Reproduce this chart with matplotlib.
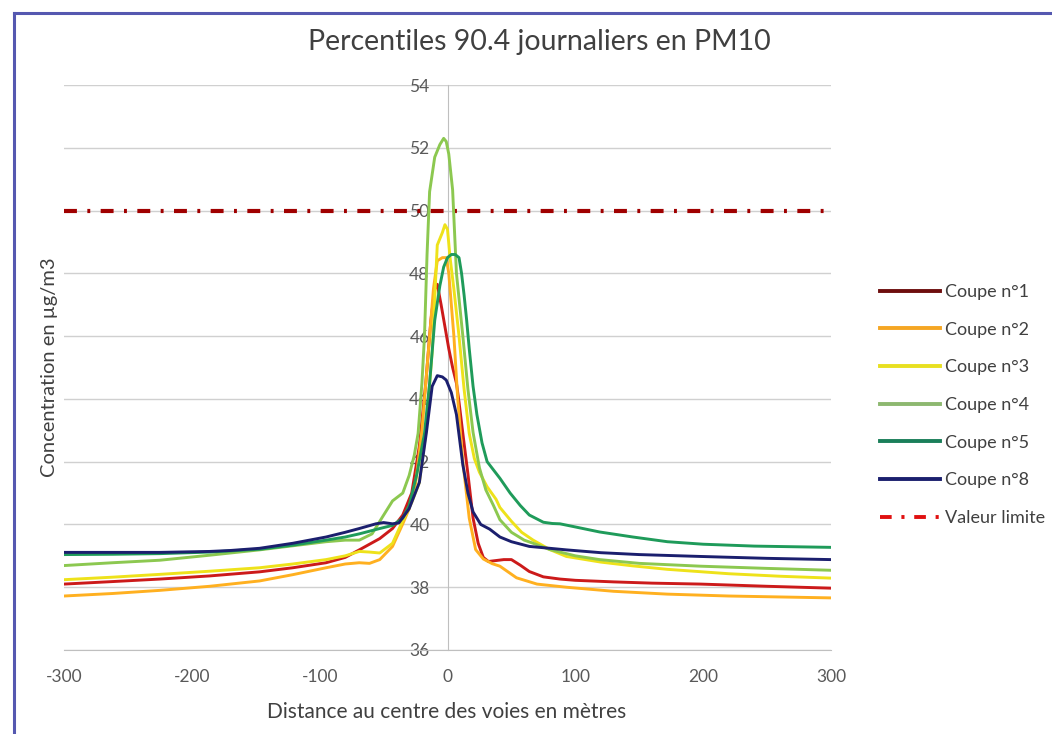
import matplotlib
matplotlib.use("Agg")
import matplotlib.pyplot as plt
from matplotlib.lines import Line2D

plt.rcParams['font.family'] = ['Lato', 'DejaVu Sans']
plt.rcParams['axes.unicode_minus'] = False

title = "Percentiles 90.4 journaliers en PM10"
xlabel = "Distance au centre des voies en mètres"
ylabel = "Concentration en µg/m3"
labels = ["Coupe n°1", "Coupe n°2", "Coupe n°3", "Coupe n°4", "Coupe n°5", "Coupe n°8"]
limit_label = "Valeur limite"
limit_value = 50
x_ticks = [-300, -200, -100, 0, 100, 200, 300]
y_ticks = [36, 38, 40, 42, 44, 46, 48, 50, 52, 54]

x1 = [-300, -262, -225, -186, -147, -121, -95, -80, -69, -61, -53, -43, -35, -28, -22, -17, -13, -10, -8, -5,
      -2, 1, 4, 7, 9, 12, 16, 20, 24, 28, 32, 38, 44, 50, 57, 64, 75, 88, 100, 130, 160, 198, 250, 300]
y1 = [38.1, 38.18, 38.26, 38.36, 38.49, 38.62, 38.78, 38.95, 39.19, 39.37, 39.55, 39.87, 40.3, 41.0, 42.5, 44.5, 46.5, 47.5, 47.65, 47.0,
      46.3, 45.6, 45.0, 44.5, 43.9, 42.9, 41.6, 40.2, 39.4, 38.95, 38.82, 38.85, 38.88, 38.88, 38.7, 38.5, 38.33, 38.26, 38.22, 38.17, 38.13, 38.1, 38.03, 37.97]

x2 = [-300, -262, -225, -186, -147, -121, -95, -80, -69, -61, -53, -43, -35, -30, -25, -20, -15, -11, -8, -4, -1, 1, 3,
      5, 8, 12, 17, 22, 28, 35, 41, 54, 70, 93, 130, 172, 220, 300]
y2 = [37.72, 37.8, 37.9, 38.03, 38.2, 38.4, 38.62, 38.74, 38.78, 38.76, 38.88, 39.3, 40.02, 40.5, 41.3, 43.0, 45.5, 47.5, 48.4, 48.5, 48.5, 48.0, 47.0,
      46.0, 44.0, 42.0, 40.2, 39.2, 38.9, 38.75, 38.67, 38.3, 38.1, 38.0, 37.87, 37.78, 37.72, 37.66]

x3 = [-300, -262, -225, -186, -147, -121, -95, -80, -69, -61, -53, -43, -35, -28, -22, -17, -12, -8, -4, -2, 0, 2, 5, 9, 13, 17, 21, 25,
      31, 38, 41, 50, 58, 67, 80, 93, 120, 145, 172, 220, 260, 300]
y3 = [38.24, 38.32, 38.41, 38.51, 38.62, 38.74, 38.88, 39.0, 39.14, 39.12, 39.09, 39.4, 40.12, 40.7, 41.34, 42.9, 45.5, 48.9, 49.3, 49.55, 49.4, 48.5, 47.5, 46.0, 44.3, 42.9, 42.1, 41.66,
      41.2, 40.8, 40.54, 40.1, 39.75, 39.5, 39.2, 38.98, 38.8, 38.68, 38.57, 38.43, 38.35, 38.29]

x4 = [-300, -262, -225, -186, -147, -121, -95, -80, -69, -59, -51, -43, -35, -30, -26, -23, -20, -18, -16, -14, -10, -6, -3, -1,
      1, 4, 7, 10, 12, 16, 20, 25, 30, 36, 41, 50, 60, 67, 80, 100, 119, 150, 198, 250, 300]
y4 = [38.69, 38.78, 38.86, 39.02, 39.19, 39.32, 39.45, 39.5, 39.5, 39.7, 40.23, 40.75, 41.0, 41.56, 42.2, 42.9, 44.5, 46.0, 48.6, 50.6, 51.7, 52.1, 52.3, 52.2,
      51.8, 50.66, 48.0, 46.8, 46.0, 44.3, 42.93, 41.8, 41.1, 40.6, 40.15, 39.75, 39.5, 39.4, 39.2, 39.0, 38.88, 38.76, 38.67, 38.6, 38.54]

x5 = [-300, -262, -225, -186, -147, -121, -95, -80, -69, -53, -43, -35, -30, -24, -18, -14, -10, -6, -3, 0, 3, 6, 9, 11, 13, 15, 17,
      20, 23, 27, 31, 41, 49, 57, 64, 75, 82, 88, 100, 119, 145, 172, 200, 240, 300]
y5 = [39.04, 39.05, 39.07, 39.12, 39.21, 39.34, 39.5, 39.6, 39.7, 39.87, 39.97, 40.2, 40.6, 41.6, 42.9, 44.5, 46.5, 47.6, 48.2, 48.5, 48.6, 48.6, 48.5, 48.0, 47.3, 46.5, 45.6,
      44.4, 43.5, 42.6, 42.0, 41.47, 41.0, 40.6, 40.3, 40.07, 40.03, 40.02, 39.92, 39.76, 39.6, 39.45, 39.37, 39.31, 39.27]

x8 = [-300, -262, -225, -186, -170, -147, -121, -95, -80, -69, -56, -50, -43, -38, -30, -22, -16.5, -12, -8, -4, -1, 3, 7, 12, 16, 20,
      26, 33, 41, 50, 64, 80, 93, 120, 150, 198, 250, 300]
y8 = [39.11, 39.11, 39.11, 39.14, 39.17, 39.24, 39.4, 39.6, 39.75, 39.87, 40.02, 40.06, 40.02, 40.05, 40.5, 41.34, 42.93, 44.4, 44.74, 44.7, 44.6, 44.2, 43.5, 41.9, 41.0, 40.4,
      40.0, 39.85, 39.6, 39.45, 39.3, 39.24, 39.19, 39.1, 39.04, 38.98, 38.92, 38.88]

series_x = [x1, x2, x3, x4, x5, x8]
series_y = [y1, y2, y3, y4, y5, y8]
line_colors = ["#CC1A1A", "#FFB020", "#EEE21A", "#8CC850", "#1F9B5A", "#1B1F6E"]
legend_colors = ["#6E0E0E", "#F5A623", "#E8E020", "#8DB870", "#1A7F5A", "#1B1F6E"]

W, H = 1052, 734
fig = plt.figure(figsize=(W / 100, H / 100), dpi=100)
fig.patch.set_facecolor("white")

ax = fig.add_axes([64 / W, 1 - 650 / H, (831 - 64) / W, (650 - 85) / H])

for xs, ys, c in zip(series_x, series_y, line_colors):
    ax.plot(xs, ys, color=c, lw=2.1, solid_joinstyle='round', zorder=3)

ax.plot([x_ticks[0], x_ticks[-1]], [limit_value, limit_value], color="#A00000", lw=3,
        linestyle=(0, (3.1, 2.5, 0.7, 2.5)), zorder=2)

ax.set_xlim(-300, 300)
ax.set_ylim(36, 54)
ax.set_xticks(x_ticks)
ax.set_yticks(y_ticks)
ax.grid(axis='y', color="#D0D0D0", lw=1)
ax.set_axisbelow(True)
for s in ['top', 'right']:
    ax.spines[s].set_visible(False)
ax.spines['left'].set_position(('data', 0))
ax.spines['left'].set_color("#BFBFBF")
ax.spines['bottom'].set_color("#BFBFBF")
ax.tick_params(axis='both', length=0, labelsize=12.5, labelcolor="#595959")
ax.tick_params(axis='y', pad=13)
ax.tick_params(axis='x', pad=14)

fig.text(539 / W, 1 - 42 / H, title, ha='center', va='center', fontsize=20.5, color="#404040")
fig.text(447 / W, 1 - 712 / H, xlabel, ha='center', va='center', fontsize=15, color="#404040")
fig.text(50 / W, 1 - 367 / H, ylabel, ha='center', va='center', rotation=90, fontsize=14.5, color="#404040")

handles = [Line2D([], [], color=c, lw=2.8) for c in legend_colors]
handles.append(Line2D([], [], color="#E01010", lw=2.8, linestyle=(0, (3, 2.5, 0.8, 2.5))))
fig.legend(handles, labels + [limit_label], loc='upper left', bbox_to_anchor=(880 / W, 1 - 284 / H),
           frameon=False, fontsize=13, handlelength=3.32, handletextpad=0.28, labelspacing=1.2,
           labelcolor="#404040", borderaxespad=0, borderpad=0)

# outer frame (left and top edges visible)
fig.add_artist(Line2D([14 / W, 14 / W], [0, 1 - 13 / H], transform=fig.transFigure, color="#5558B0", lw=2.2))
fig.add_artist(Line2D([14 / W, 1], [1 - 13 / H, 1 - 13 / H], transform=fig.transFigure, color="#5558B0", lw=2.2))

fig.savefig("out.png", dpi=100)
